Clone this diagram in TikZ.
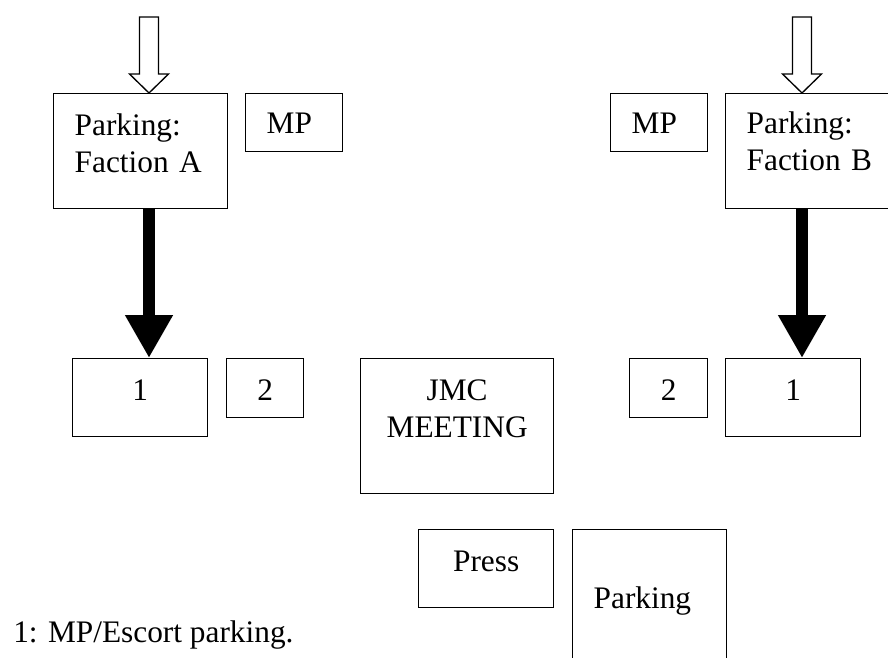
\documentclass[tikz,border=0pt]{standalone}
\usepackage{fontspec}
\setmainfont{Liberation Serif}
\usetikzlibrary{arrows.meta}
\tikzset{
  box/.style={draw, line width=1pt, inner sep=0pt, anchor=north west, text height=20pt,
    font=\fontsize{23.5}{27.75}\selectfont},
  leftbox/.style={box, align=left},
  hollow/.style={draw, fill=white, line width=1pt, line join=miter},
  heavy/.style={line width=9pt, -{Triangle[width=33.75pt,length=32.25pt]}}
}
\begin{document}
\begin{tikzpicture}[x=0.75pt,y=-0.75pt]
\useasboundingbox[fill=white] (0,0) rectangle (888,657);
\clip (0,0) rectangle (888,657);
% left side
\node[leftbox, text width=99pt, minimum width=130.5pt, minimum height=86.25pt, text depth=43.25pt] (pa) at (53,93) {Parking:\\Faction A};
\node[leftbox, text width=41.25pt, minimum width=72.75pt, minimum height=43.5pt, text depth=3.5pt] (ma) at (245,93) {MP};
\node[box, minimum width=101.25pt, minimum height=58.5pt, text depth=15.5pt] (oa) at (72,358) {1};
\node[box, minimum width=57.75pt, minimum height=44.25pt, text depth=1.25pt] (ta) at (226,358) {2};
% middle
\node[box, align=center, text width=144.75pt, minimum width=144.75pt, minimum height=101.25pt, text depth=58.25pt] (j) at (360,358) {JMC\\MEETING};
\node[box, minimum width=101.25pt, minimum height=58.5pt, text depth=15.5pt] (pr) at (418,529) {Press};
\node[leftbox, text width=84pt, minimum width=115.5pt, minimum height=112.5pt, text depth=14pt] (pk) at (572,529) {Parking};
% right side
\node[leftbox, text width=41.25pt, minimum width=72.75pt, minimum height=43.5pt, text depth=3.5pt] (mb) at (610,93) {MP};
\node[leftbox, text width=99pt, minimum width=130.5pt, minimum height=86.25pt, text depth=46.25pt] (pb) at (725,93) {Parking:\\Faction B};
\node[box, minimum width=58.5pt, minimum height=44.25pt, text depth=1.25pt] (tb) at (629,358) {2};
\node[box, minimum width=101.25pt, minimum height=58.5pt, text depth=15.5pt] (ob) at (725,358) {1};
\node[anchor=base west, inner sep=0pt, font=\fontsize{23.5}{27.75}\selectfont] (n) at (13,642) {1: MP/Escort parking.};
% arrows
\coordinate (inA) at (149,17);
\coordinate (inB) at (802,17);
\path[hollow] (inA) ++(-9.5,0) -- ++(0,57) -- ++(-10,0) -- (inA |- pa.north) -- ++(19.5,-19) -- ++(-10,0) -- ++(0,-57) -- cycle;
\path[hollow] (inB) ++(-9.5,0) -- ++(0,57) -- ++(-10,0) -- (inB |- pb.north) -- ++(19.5,-19) -- ++(-10,0) -- ++(0,-57) -- cycle;
\draw[heavy] (inA |- pa.south) -- (inA |- oa.north);
\draw[heavy] (inB |- pb.south) -- (inB |- ob.north);
\end{tikzpicture}
\end{document}
